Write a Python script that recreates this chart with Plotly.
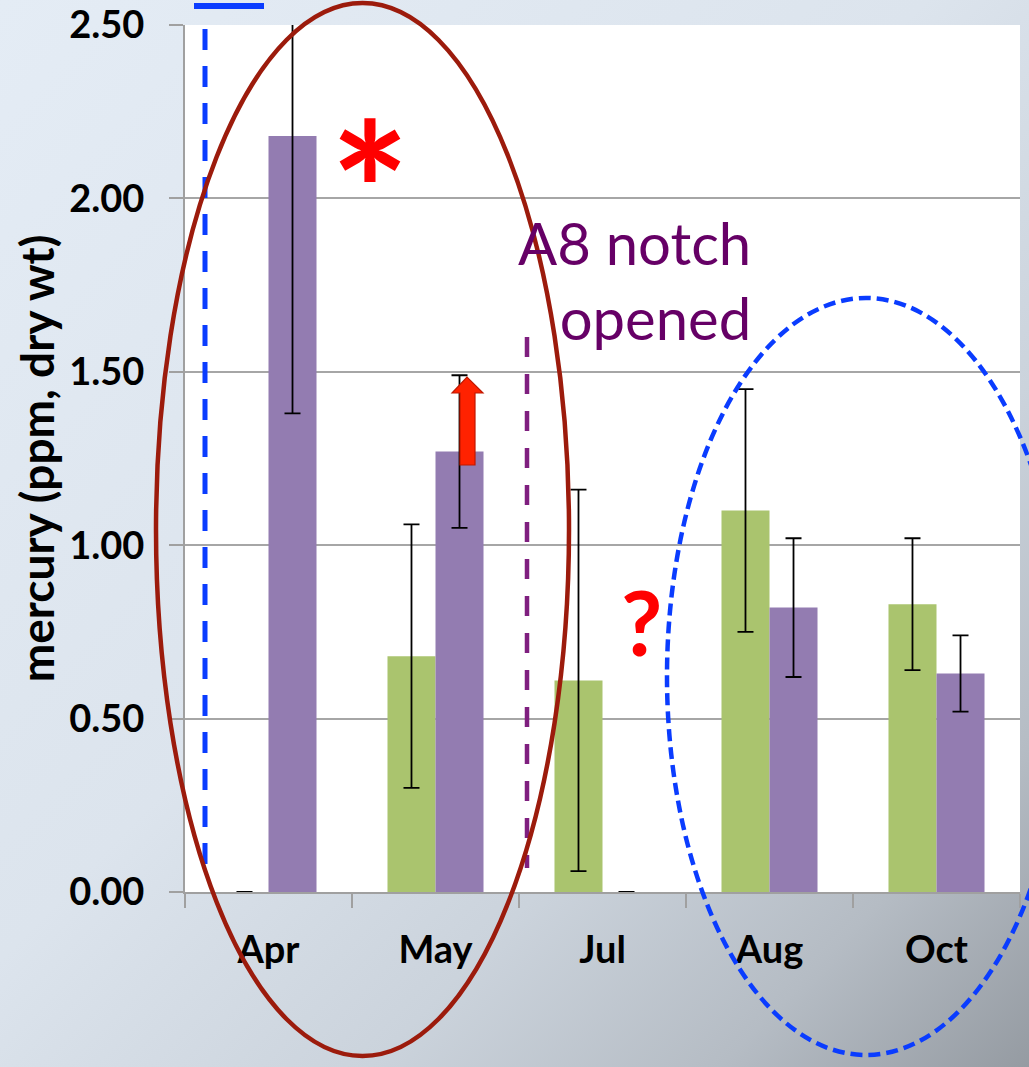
import base64
import plotly.graph_objects as go

# ---------------- data ----------------
months = ["Apr", "May", "Jul", "Aug", "Oct"]
green_vals = [0.0, 0.68, 0.61, 1.10, 0.83]
green_err = [None, 0.38, 0.55, 0.35, 0.19]
purple_vals = [2.18, 1.27, 0.0, 0.82, 0.63]
purple_err = [0.80, 0.22, None, 0.20, 0.11]
y_ticks = [0.0, 0.5, 1.0, 1.5, 2.0, 2.5]

# ---------------- layout geometry ----------------
FIG_W, FIG_H = 1029, 1067
L, R, T, B = 185, 1020, 25, 892


def px(x):
    return (x - L) / (R - L)


def py(y):
    return (B - y) / (B - T)


FONT = "Lato, 'Open Sans', Arial, sans-serif"
GREEN = "#aac46e"
PURPLE = "#937cb1"

fig = go.Figure()
fig.add_trace(go.Bar(
    x=months, y=green_vals, name="green", marker=dict(color=GREEN, line=dict(width=0)),
    error_y=dict(type="data", array=green_err, visible=True, color="black", thickness=1.8, width=8),
))
fig.add_trace(go.Bar(
    x=months, y=purple_vals, name="purple", marker=dict(color=PURPLE, line=dict(width=0)),
    error_y=dict(type="data", array=purple_err, visible=True, color="black", thickness=1.8, width=8),
))

# gradient background as an svg image
svg = (
    '<svg xmlns="http://www.w3.org/2000/svg" width="1029" height="1067" viewBox="0 0 1029 1067" preserveAspectRatio="none">'
    '<defs><linearGradient id="g" x1="0" y1="0" x2="1" y2="1">'
    '<stop offset="0" stop-color="#e4ecf5"/>'
    '<stop offset="0.45" stop-color="#dce4ed"/>'
    '<stop offset="0.68" stop-color="#cbd3dc"/>'
    '<stop offset="0.85" stop-color="#b5bcc4"/>'
    '<stop offset="1" stop-color="#959ba2"/>'
    '</linearGradient></defs>'
    '<rect x="0" y="0" width="1029" height="1067" fill="url(#g)"/></svg>'
)
src = "data:image/svg+xml;base64," + base64.b64encode(svg.encode()).decode()

shapes = []
# white plot area
shapes.append(dict(type="rect", xref="paper", yref="paper", x0=0, x1=1, y0=0, y1=1,
                   fillcolor="white", line=dict(width=0), layer="below"))
# blue dashed vertical line
shapes.append(dict(type="line", xref="paper", yref="paper", x0=px(205), x1=px(205), y0=py(29), y1=py(877),
                   line=dict(color="#0a3cff", width=5, dash="21px,16px")))
# blue solid bar at top (legend fragment)
shapes.append(dict(type="line", xref="paper", yref="paper", x0=px(194), x1=px(264), y0=py(6), y1=py(6),
                   line=dict(color="#0a3cff", width=6)))
# purple dashed vertical line
shapes.append(dict(type="line", xref="paper", yref="paper", x0=px(527), x1=px(527), y0=py(337), y1=py(868),
                   line=dict(color="#7f1f7f", width=4.5, dash="20px,17px")))
# brown ellipse
shapes.append(dict(type="circle", xref="paper", yref="paper", x0=px(156), x1=px(569), y0=py(3), y1=py(1056),
                   line=dict(color="#9c1b0c", width=4.5)))
# blue dashed ellipse
shapes.append(dict(type="circle", xref="paper", yref="paper", x0=px(667), x1=px(1065), y0=py(298), y1=py(1055),
                   line=dict(color="#0a3cff", width=4.5, dash="12px,6px")))
# red block arrow
pts = [(460, 465), (460, 393), (452, 393), (467, 377), (483, 393), (475, 393), (475, 465)]
path = "M " + " L ".join(f"{px(a):.5f},{py(b):.5f}" for a, b in pts) + " Z"
shapes.append(dict(type="path", xref="paper", yref="paper", path=path,
                   fillcolor="#ff2200", line=dict(color="#c01800", width=1.2)))

annotations = [
    dict(text="<b>*</b>", x=px(370), y=py(188), xref="paper", yref="paper", showarrow=False,
         xanchor="center", yanchor="middle", font=dict(family=FONT, size=188, color="#ff0000")),
    dict(text="A8 notch<br>opened", x=px(753), y=py(206), xref="paper", yref="paper", showarrow=False,
         xanchor="right", yanchor="top", align="right",
         font=dict(family=FONT, size=58, color="#660066")),
    dict(text="<b>?</b>", x=px(641), y=py(621), xref="paper", yref="paper", showarrow=False,
         xanchor="center", yanchor="middle", font=dict(family=FONT, size=90, color="#ff0000")),
]

fig.update_layout(
    width=FIG_W, height=FIG_H,
    margin=dict(l=L, r=FIG_W - R, t=T, b=FIG_H - B, autoexpand=False),
    paper_bgcolor="#e2eaf3", plot_bgcolor="rgba(0,0,0,0)",
    barmode="group", bargap=0.425, bargroupgap=0,
    showlegend=False,
    images=[dict(source=src, xref="paper", yref="paper", x=px(0), y=py(0),
                 sizex=FIG_W / (R - L), sizey=FIG_H / (B - T), sizing="stretch",
                 xanchor="left", yanchor="top", layer="below")],
    shapes=shapes,
    annotations=annotations,
    font=dict(family=FONT, color="black"),
)
fig.update_xaxes(
    type="category", showline=True, linecolor="#a0a0a0", linewidth=2,
    ticks="outside", tickson="boundaries", ticklen=14, tickcolor="#a0a0a0", tickwidth=2,
    ticklabelstandoff=23, tickfont=dict(family=FONT, size=38, color="black", weight="bold"),
    showgrid=False, zeroline=False,
)
fig.update_yaxes(
    range=[0, 2.5], tickvals=y_ticks, tickformat=".2f",
    showline=True, linecolor="#a0a0a0", linewidth=2,
    ticks="outside", ticklen=14, tickcolor="#a0a0a0", tickwidth=2,
    ticklabelstandoff=17, tickfont=dict(family=FONT, size=38, color="black", weight="bold"),
    showgrid=True, gridcolor="#a6a6a6", gridwidth=2, zeroline=False,
    title=dict(text="mercury (ppm, dry wt)", standoff=0,
               font=dict(family=FONT, size=46, color="black", weight="bold")),
)

fig.write_html(
    "out.html",
    config={"displayModeBar": False},
    post_script="document.body.style.margin='0';document.body.style.overflow='hidden';",
)
